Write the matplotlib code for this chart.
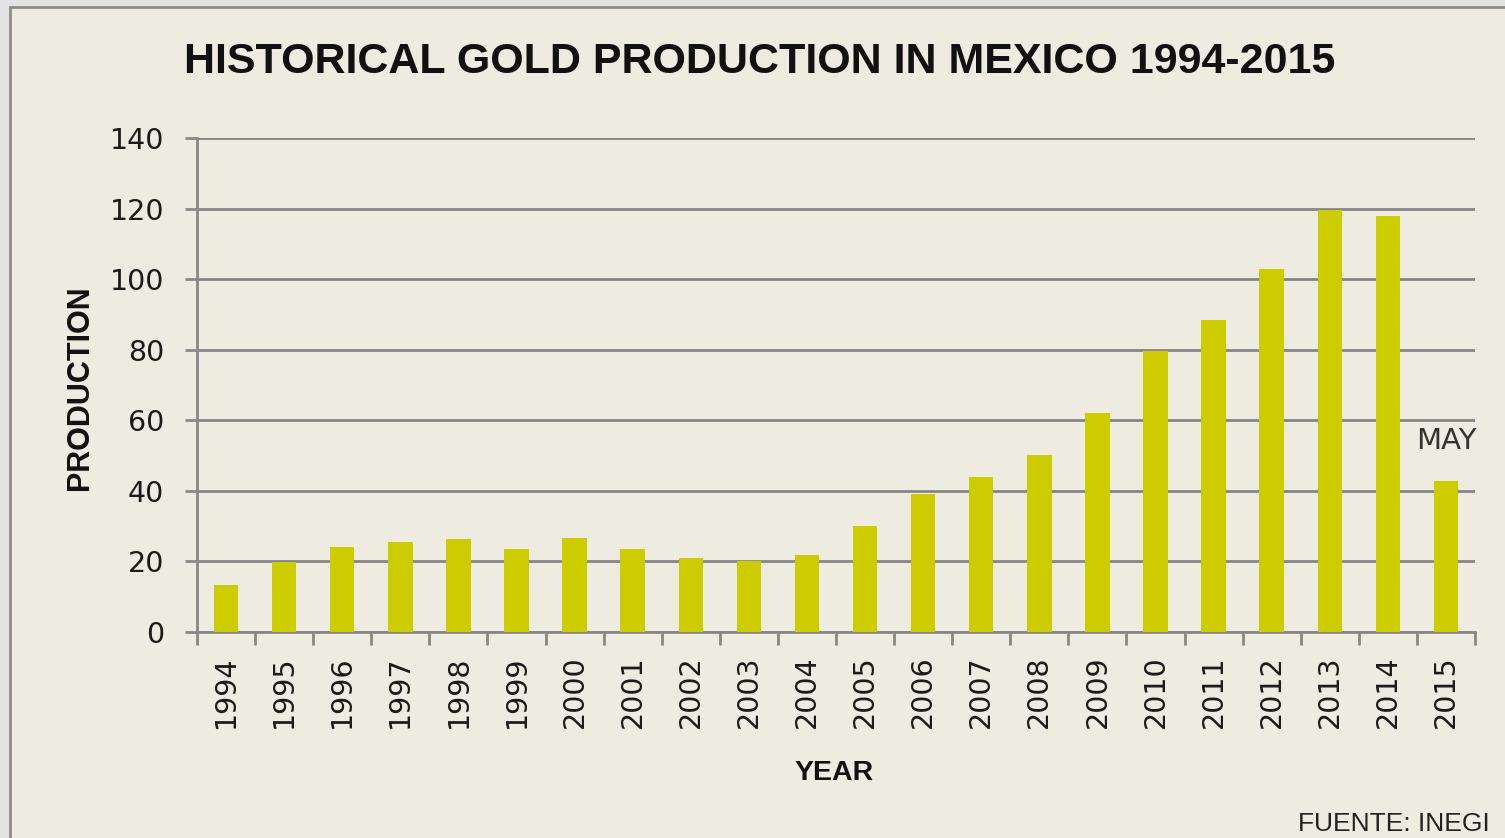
import matplotlib
matplotlib.use("Agg")
import matplotlib.pyplot as plt
from matplotlib.patches import Rectangle
import numpy as np

years = ["1994", "1995", "1996", "1997", "1998", "1999", "2000", "2001", "2002", "2003", "2004",
         "2005", "2006", "2007", "2008", "2009", "2010", "2011", "2012", "2013", "2014", "2015"]
production = [13.4, 19.9, 24.0, 25.6, 26.4, 23.5, 26.5, 23.5, 21.0, 20.0, 21.8,
              30.0, 39.0, 43.8, 50.3, 62.1, 79.5, 88.3, 103.0, 119.7, 118.0, 42.7]
yticks = [0, 20, 40, 60, 80, 100, 120, 140]

W, H = 1505, 838
fig = plt.figure(figsize=(W / 100, H / 100), dpi=100)
fig.patch.set_facecolor("#E3E3E3")
bg = "#EEEBE0"
frame = Rectangle((10 / W, -0.1), 1.2, 1.1 - 7 / H, transform=fig.transFigure,
                  facecolor=bg, edgecolor="#8C8C8C", linewidth=2, zorder=-5)
fig.patches.append(frame)

ax = fig.add_axes([197 / W, 1 - 632 / H, (1475 - 197) / W, (632 - 138) / H])
ax.set_zorder(5)
ax.patch.set_alpha(0)

x = np.arange(len(years))
ax.bar(x, production, width=0.42, color="#CCCC00", zorder=3)
ax.set_xlim(-0.5, len(years) - 0.5)
ax.set_ylim(0, 140)
ax.set_yticks(yticks)
ax.set_yticklabels([str(v) for v in yticks], fontsize=20.5, family="DejaVu Sans", color="#1a1a1a")
ax.set_xticks(x)
ax.set_xticklabels(years, rotation=90, fontsize=20.5, family="DejaVu Sans", color="#1a1a1a")
ax.tick_params(axis="x", which="major", length=0, pad=17)
ax.set_xticks(np.arange(-0.5, len(years), 1.0), minor=True)
ax.tick_params(axis="x", which="minor", length=9.5, width=2, color="#888888", direction="out")
ax.tick_params(axis="y", which="major", length=8.6, width=2, color="#888888", direction="out", pad=15)

ax.grid(axis="y", color="#858585", linewidth=2, zorder=1)
for s in ["top", "right"]:
    ax.spines[s].set_visible(False)
for s in ["left", "bottom"]:
    ax.spines[s].set_color("#888888")
    ax.spines[s].set_linewidth(2)

fig.text(760 / W, 1 - 62 / H, "HISTORICAL GOLD PRODUCTION IN MEXICO 1994-2015",
         ha="center", va="center", fontsize=31, fontweight="bold",
         family="Liberation Sans", color="#111111")
fig.text(80 / W, 1 - 388 / H, "PRODUCTION", rotation=90, ha="center", va="center",
         fontsize=22, fontweight="bold", family="Liberation Sans", color="#111111")
fig.text(834 / W, 1 - 773 / H, "YEAR", ha="center", va="center",
         fontsize=20.5, fontweight="bold", family="Liberation Sans", color="#111111")
ax.annotate("MAY", xy=(len(years) - 1, 54), xycoords="data", ha="center", va="center",
            fontsize=21, family="DejaVu Sans", color="#333333", annotation_clip=False,
            xytext=(0, 0), textcoords="offset points")
fig.text(1490 / W, 1 - 824 / H, "FUENTE: INEGI", ha="right", va="center",
         fontsize=19, family="Liberation Sans", color="#222222")

fig.savefig("out.png", dpi=100, facecolor=fig.get_facecolor())
